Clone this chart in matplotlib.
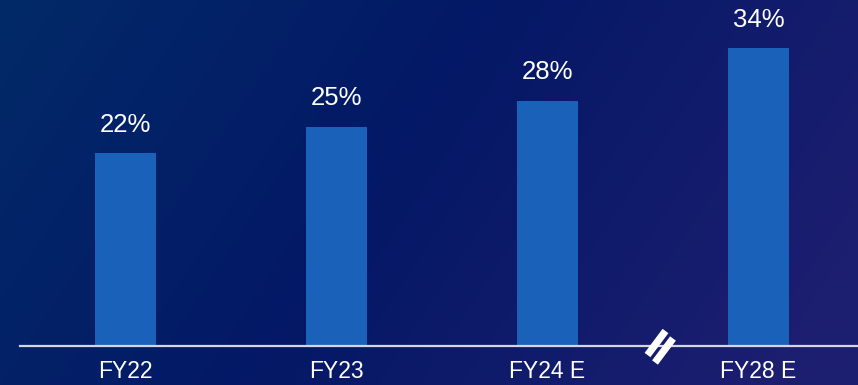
import numpy as np
import matplotlib
matplotlib.use("Agg")
import matplotlib.pyplot as plt

categories = ["FY22", "FY23", "FY24 E", "FY28 E"]
values = [22, 25, 28, 34]
labels = ["22%", "25%", "28%", "34%"]

W, H, DPI = 858, 385, 100
fig = plt.figure(figsize=(W / DPI, H / DPI), dpi=DPI)

# background gradient
bg = fig.add_axes([0, 0, 1, 1])
nx, ny = 200, 100
xs = np.linspace(0, 1, nx)[None, :]
ys = np.linspace(0, 1, ny)[:, None]
c_tl = np.array([2, 42, 104]) / 255
c_mid = np.array([4, 24, 102]) / 255
c_r = np.array([28, 30, 112]) / 255
t = np.clip(xs * 0.85 + ys * 0.25, 0, 1)
img = np.zeros((ny, nx, 3))
for k in range(3):
    a = np.where(t < 0.5, c_tl[k] + (c_mid[k] - c_tl[k]) * (t / 0.5),
                 c_mid[k] + (c_r[k] - c_mid[k]) * ((t - 0.5) / 0.5))
    img[:, :, k] = a
bg.imshow(img, aspect="auto", extent=[0, 1, 0, 1], origin="upper", interpolation="bilinear")
bg.set_xlim(0, 1)
bg.set_ylim(0, 1)
bg.axis("off")

ax = fig.add_axes([20 / W, (H - 346) / H, (W - 20) / W, 346 / H])
ax.patch.set_alpha(0)
x = np.arange(len(categories))
ax.bar(x, values, width=0.29, color="#1a62b9", zorder=2)
ax.set_xlim(-0.5, 3.472)
ax.set_ylim(0, 39.5)
for xi, v, lab in zip(x, values, labels):
    ax.annotate(lab, (xi, v), xytext=(0, 12), textcoords="offset points",
                ha="center", va="bottom", color="white", fontsize=18.5,
                family="Liberation Sans")
for s in ["top", "right", "left"]:
    ax.spines[s].set_visible(False)
ax.spines["bottom"].set_color("#d4d6e0")
ax.spines["bottom"].set_linewidth(1.6)
ax.set_yticks([])
ax.set_xticks(x)
ax.set_xticklabels(categories, color="white", fontsize=16.5, family="Liberation Sans")
ax.tick_params(axis="x", length=0, pad=10)

# axis break marker
for dx, dy in ((0, 0), (7.5, 7.5)):
    fig.add_artist(plt.Line2D([(647.5 + dx) / W, (665.5 + dx) / W],
                              [(H - 355 - dy) / H, (H - 331 - dy) / H],
                              color="white", linewidth=5.2, solid_capstyle="butt",
                              transform=fig.transFigure, zorder=10))

fig.savefig("out.png", dpi=DPI)
